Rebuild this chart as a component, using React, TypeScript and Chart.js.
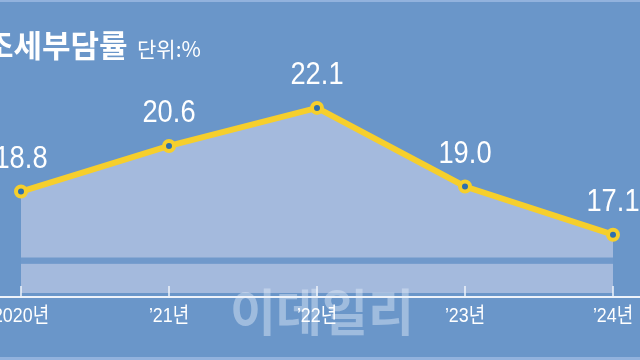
import React, { useEffect, useRef } from "react";
import { Chart, registerables } from "chart.js";

Chart.register(...registerables);

const categories = ["2020년", "\u201921년", "\u201922년", "\u201923년", "\u201924년"];
const values = [18.8, 20.6, 22.1, 19.0, 17.1];
const valueLabels = ["18.8", "20.6", "22.1", "19.0", "17.1"];
const titleText = "조세부담률";
const unitText = "단위:%";
const watermarkText = "이데일리";
const yMin = 14.8;
const yMax = 26;
const breakBand = [15.95, 16.2];

const BG = "#6a96c9";
const AREA = "#a4badd";
const YELLOW = "#f6cf2c";
const DOT = "#2f6fae";
const SANS = "'Liberation Sans', 'Noto Sans CJK KR', sans-serif";

function narrowText(ctx: CanvasRenderingContext2D, text: string, x: number, y: number, sx: number) {
  ctx.save();
  ctx.translate(x, y);
  ctx.scale(sx, 1);
  ctx.fillText(text, 0, 0);
  ctx.restore();
}

const decorPlugin = {
  id: "decor",
  beforeDraw(chart: any) {
    const { ctx, width, height } = chart;
    ctx.save();
    ctx.fillStyle = BG;
    ctx.fillRect(0, 0, width, height);
    ctx.fillStyle = "#92b2dd";
    ctx.fillRect(0, 0, width, 2);
    ctx.fillRect(0, height - 3, width, 3);
    ctx.restore();
  },
  afterDatasetsDraw(chart: any) {
    const { ctx, width, scales } = chart;
    const x = scales.x;
    const y = scales.y;
    const x0 = x.getPixelForValue(0);
    const x1 = x.getPixelForValue(categories.length - 1);
    ctx.save();
    // axis break band
    const b1 = y.getPixelForValue(breakBand[1]);
    const b0 = y.getPixelForValue(breakBand[0]);
    ctx.fillStyle = "#7099cb";
    ctx.fillRect(x0, b1, x1 - x0, b0 - b1);
    // watermark
    ctx.fillStyle = "rgba(225,235,248,0.45)";
    ctx.font = "bold 50px 'Noto Sans CJK KR', sans-serif";
    ctx.textAlign = "center";
    ctx.textBaseline = "middle";
    ctx.fillText(watermarkText, 322, 312);
    // axis line
    const axisY = y.bottom + 4;
    ctx.fillStyle = "#eef3fa";
    ctx.fillRect(0, axisY - 1, width, 2);
    categories.forEach((_, i) => {
      const px = Math.round(x.getPixelForValue(i));
      ctx.fillRect(px - 0.75, axisY - 11, 1.5, 11);
    });
    // x labels
    ctx.fillStyle = "#ffffff";
    ctx.font = `21px ${SANS}`;
    ctx.textBaseline = "middle";
    categories.forEach((c, i) => {
      narrowText(ctx, c, x.getPixelForValue(i), axisY + 19, 0.85);
    });
    // value labels
    ctx.font = `31px ${SANS}`;
    ctx.textBaseline = "alphabetic";
    values.forEach((v, i) => {
      narrowText(ctx, valueLabels[i], x.getPixelForValue(i), y.getPixelForValue(v) - 24, 0.88);
    });
    // title
    ctx.textAlign = "left";
    ctx.textBaseline = "alphabetic";
    ctx.font = "bold 31px 'Noto Sans CJK KR', sans-serif";
    ctx.fillText(titleText, -15, 57);
    ctx.font = "21px 'Noto Sans CJK KR', sans-serif";
    ctx.fillText(unitText, 137, 57);
    ctx.restore();
  },
};

export default function App() {
  const ref = useRef<HTMLCanvasElement | null>(null);
  useEffect(() => {
    document.body.style.margin = "0";
    if (!ref.current) return;
    const chart = new Chart(ref.current, {
      type: "line",
      data: {
        labels: categories,
        datasets: [
          {
            data: values,
            borderColor: YELLOW,
            borderWidth: 6,
            backgroundColor: AREA,
            fill: "start",
            tension: 0,
            pointRadius: 5,
            pointBorderWidth: 4,
            pointBackgroundColor: DOT,
            pointBorderColor: YELLOW,
            clip: false,
          } as any,
        ],
      },
      options: {
        responsive: false,
        animation: false,
        layout: { padding: { top: 2, bottom: 67, left: 21, right: 27 } },
        plugins: { legend: { display: false }, tooltip: { enabled: false } },
        scales: {
          x: { display: false, offset: false },
          y: { display: false, min: yMin, max: yMax },
        },
      },
      plugins: [decorPlugin],
    });
    return () => chart.destroy();
  }, []);
  return (
    <div style={{ position: "fixed", left: 0, top: 0, width: 640, height: 360 }}>
      <canvas ref={ref} width={640} height={360} />
    </div>
  );
}
